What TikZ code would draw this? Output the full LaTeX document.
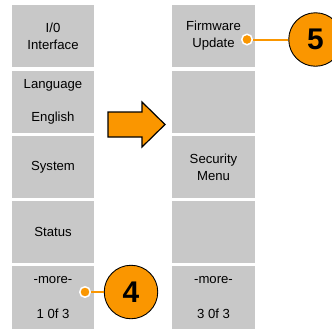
\documentclass[tikz,border=0pt]{standalone}
\usepackage{fontspec}
\setmainfont{Liberation Sans}
\usetikzlibrary{positioning}
\definecolor{menugray}{RGB}{200,200,200}
\definecolor{calloutorange}{RGB}{250,150,0}

\begin{document}
\begin{tikzpicture}[x=1bp,y=-1bp,
  menubox/.style={fill=menugray, minimum width=82bp, minimum height=62.5bp, inner sep=0pt, align=center, font=\fontsize{13.2}{17}\selectfont},
  callout/.style={circle, fill=calloutorange, draw=black, line width=0.9bp, minimum size=53.5bp, inner sep=0pt, font=\fontsize{30}{30}\selectfont\bfseries},
  calloutdot/.style={circle, fill=calloutorange, draw=white, line width=1.5bp, minimum size=10.5bp, inner sep=0pt},
  calloutline/.style={draw=calloutorange, line width=2bp}]

 \clip (0,0) rectangle (332,330);
 \fill[white] (0,0) rectangle (332,330);

 % menu page 1
 \node[menubox] (io) at (53,36) {I/0\\Interface};
 \node[menubox] (language) at (53,102) {Language\\[16bp]English};
 \node[menubox] (system) at (53,167) {System};
 \node[menubox] (status) at (53,232) {Status};
 \node[menubox] (moreone) at (53,297.5) {-more-\\[18bp]1 0f 3};

 % menu page 3
 \node[menubox] (firmware) at (213.5,36) {Firmware\\Update};
 \node[menubox] (blankone) at (213.5,102) {};
 \node[menubox] (security) at (213.5,167) {Security\\Menu};
 \node[menubox] (blanktwo) at (213.5,232) {};
 \node[menubox] (morethree) at (213.5,297.5) {-more-\\[18bp]3 0f 3};

 \filldraw[fill=calloutorange, draw=black, line width=1.2bp, line join=miter]
  (108,112) -- (142,112) -- (142,102) -- (165,124.5) -- (142,147) -- (142,137) -- (108,137) -- cycle;

 % callouts
 \node[calloutdot] (dotfour) at (85,292) {};
 \node[callout] (four) at (131,292) {4};
 \draw[calloutline] (dotfour) -- (four);

 \node[calloutdot] (dotfive) at (247,39.5) {};
 \node[callout] (five) at (315.5,39.5) {5};
 \draw[calloutline] (dotfive) -- (five);

\end{tikzpicture}
\end{document}
